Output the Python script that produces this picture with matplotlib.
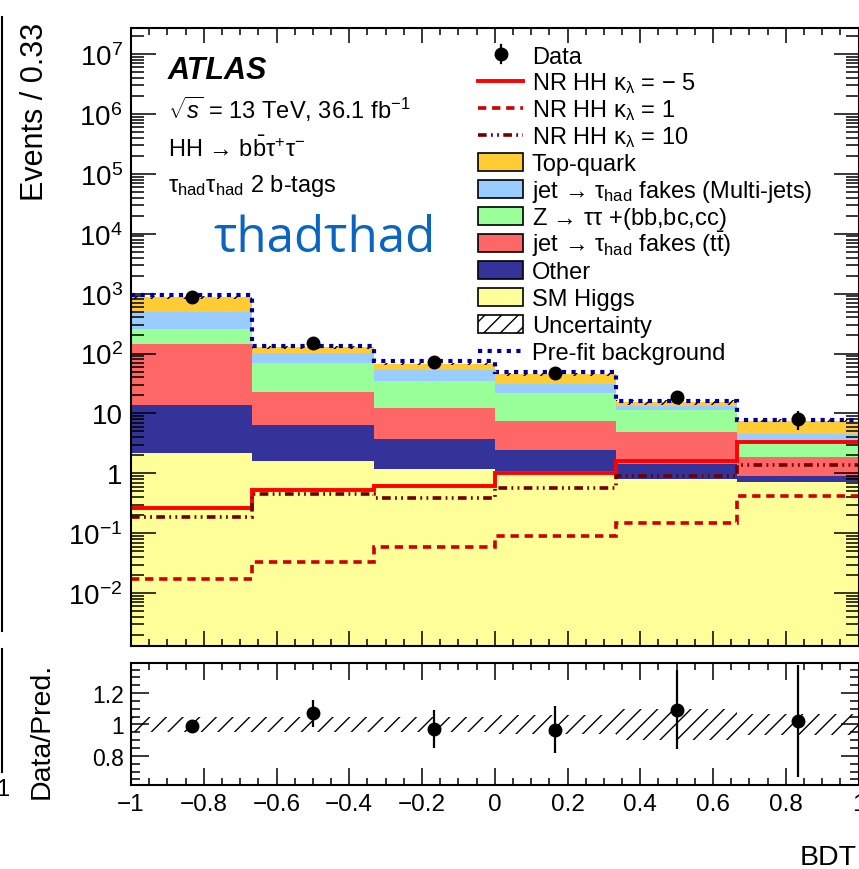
import numpy as np
import matplotlib
matplotlib.use('Agg')
import matplotlib.pyplot as plt
from matplotlib.ticker import MultipleLocator, LogLocator, FuncFormatter, NullFormatter, FixedLocator
from matplotlib.patches import Rectangle
from matplotlib.lines import Line2D

plt.rcParams['font.family'] = ['Liberation Sans', 'DejaVu Sans']
plt.rcParams['mathtext.fontset'] = 'custom'
plt.rcParams['mathtext.rm'] = 'Liberation Sans'
plt.rcParams['mathtext.it'] = 'Liberation Sans:italic'
plt.rcParams['mathtext.bf'] = 'Liberation Sans:bold'
plt.rcParams['mathtext.sf'] = 'Liberation Sans'
plt.rcParams['hatch.linewidth'] = 1.0

# ---------------- data ----------------
bin_edges = [-1.0, -2 / 3, -1 / 3, 0.0, 1 / 3, 2 / 3, 1.0]
sm_higgs = [2.2, 1.6, 1.18, 1.08, 0.80, 0.72]
other = [11.8, 4.9, 2.5, 1.4, 0.63, 0.17]
fakes_ttbar = [128, 16.0, 8.6, 5.0, 3.4, 0.96]
ztautau = [115, 46.5, 22.4, 14.5, 6.7, 1.65]
fakes_multijet = [230, 33, 19.3, 9.0, 1.6, 1.0]
top_quark = [380, 25, 13, 14.5, 2.2, 3.05]
prefit_bkg = [956, 135, 76, 48.5, 16.2, 7.85]
data = [870, 148, 73, 47, 18.6, 8.05]
data_err = [29, 12, 8.5, 6.9, 4.3, 2.85]
hh_klm5 = [0.26, 0.53, 0.62, 1.01, 1.62, 3.29]
hh_kl1 = [0.0174, 0.0327, 0.060, 0.091, 0.146, 0.42]
hh_kl10 = [0.19, 0.45, 0.39, 0.57, 0.89, 1.38]
ratio = [0.99, 1.072, 0.971, 0.965, 1.095, 1.022]
ratio_err = [0.03, 0.085, 0.12, 0.15, 0.25, 0.36]
rel_unc = [0.05, 0.05, 0.05, 0.06, 0.10, 0.065]

TAUHAD = r'$\mathrm{\tau_{had}}$'
KL = r'$\mathrm{\kappa_{\lambda}}$'
legend_labels = [
    'Data',
    'NR HH ' + KL + ' = \u2212 5',
    'NR HH ' + KL + ' = 1',
    'NR HH ' + KL + ' = 10',
    'Top-quark',
    'jet \u2192 ' + TAUHAD + ' fakes (Multi-jets)',
    'Z \u2192 ' + r'$\mathrm{\tau\tau}$' + ' +(bb,bc,cc)',
    'jet \u2192 ' + TAUHAD + r' fakes ($\mathrm{t\bar{t}}$)',
    'Other',
    'SM Higgs',
    'Uncertainty',
    'Pre-fit background',
]

# ---------------- styles ----------------
C_TOP = '#ffcc33'
C_MJ = '#99ccff'
C_Z = '#99ff99'
C_TT = '#ff6666'
C_OTH = '#333399'
C_H = '#ffff99'
LS_KL1 = (0, (2.3, 1.6))
LS_KL10 = (0, (2.4, 1.2, 0.5, 1.2, 0.5, 1.2))
LS_PRE = (0, (1, 1.3))
HATCH = '//'

W, H = 859, 870
fig = plt.figure(figsize=(W / 100, H / 100), dpi=100)


def fx(px):
    return px / W


def fy(py):
    return 1 - py / H


ax = fig.add_axes([fx(131), fy(647), fx(858.5) - fx(131), fy(29) - fy(647)])
rax = fig.add_axes([fx(131), fy(786), fx(858.5) - fx(131), fy(664) - fy(786)])

edges = np.array(bin_edges)
centers = 0.5 * (edges[:-1] + edges[1:])
widths = np.diff(edges)

# stacked backgrounds
cum = np.zeros(len(centers))
for vals, col in [(sm_higgs, C_H), (other, C_OTH), (fakes_ttbar, C_TT),
                  (ztautau, C_Z), (fakes_multijet, C_MJ), (top_quark, C_TOP)]:
    new = cum + np.array(vals)
    ax.stairs(new, edges, baseline=np.maximum(cum, 1e-6), fill=True,
              color=col, lw=0, zorder=1)
    cum = new
total = cum
rel = np.array(rel_unc)
ax.bar(centers, 2 * rel * total, bottom=total * (1 - rel), width=widths,
       fill=False, hatch=HATCH, edgecolor='k', lw=0, zorder=2)

ax.stairs(hh_klm5, edges, baseline=None, color='#ff0000', lw=2.8, zorder=4)
ax.stairs(hh_kl1, edges, baseline=None, color='#cc0000', lw=2.6,
          linestyle=LS_KL1, zorder=4)
ax.stairs(hh_kl10, edges, baseline=None, color='#6e0000', lw=2.6,
          linestyle=LS_KL10, zorder=4)
ax.stairs(prefit_bkg, edges, baseline=None, color='#000099', lw=3.0,
          linestyle=LS_PRE, zorder=5)
ax.errorbar(centers, data, yerr=data_err, fmt='o', color='k', ms=9,
            elinewidth=1.6, capsize=0, zorder=10)

ax.set_xlim(-1, 1)
ax.set_yscale('log')
ax.set_ylim(1.31e-3, 2.72e7)
ax.yaxis.set_major_locator(LogLocator(base=10, numticks=30))
ax.yaxis.set_minor_locator(LogLocator(base=10, subs=np.arange(2, 10), numticks=30))


def logfmt(v, pos):
    e = int(round(np.log10(v)))
    if e == 0:
        return '1'
    if e == 1:
        return '10'
    return r'$\mathregular{10^{%d}}$' % e


ax.yaxis.set_major_formatter(FuncFormatter(logfmt))
ax.yaxis.set_minor_formatter(NullFormatter())
ax.xaxis.set_major_locator(MultipleLocator(0.2))
ax.xaxis.set_minor_locator(MultipleLocator(0.05))
ax.tick_params(which='both', direction='in', top=True, right=True,
               labelbottom=False)
ax.tick_params(axis='y', which='major', length=18, width=1.1, labelsize=20, pad=6)
ax.tick_params(axis='y', which='minor', length=9.5, width=1.1)
ax.tick_params(axis='x', which='major', length=11, width=1.1)
ax.tick_params(axis='x', which='minor', length=5, width=1.1)
for s in ax.spines.values():
    s.set_linewidth(1.5)
    s.set_zorder(20)

# ratio panel
rax.bar(centers, 2 * rel, bottom=1 - rel, width=widths, fill=False,
        hatch=HATCH, edgecolor='k', lw=0, zorder=1)
rax.errorbar(centers, ratio, yerr=ratio_err, fmt='o', color='k', ms=9,
             elinewidth=1.6, capsize=0, zorder=10)
rax.set_xlim(-1, 1)
rax.set_ylim(0.614, 1.392)
rax.yaxis.set_major_locator(FixedLocator([0.8, 1.0, 1.2]))
rax.yaxis.set_minor_locator(MultipleLocator(0.05))
rax.yaxis.set_major_formatter(FuncFormatter(lambda v, p: ('%g' % v)))
rax.xaxis.set_major_locator(MultipleLocator(0.2))
rax.xaxis.set_minor_locator(MultipleLocator(0.05))
rax.xaxis.set_major_formatter(FuncFormatter(lambda v, p: ('%g' % round(v, 2)).replace('-', '\u2212')))
rax.tick_params(which='both', direction='in', top=True, right=True)
rax.tick_params(axis='y', which='major', length=13, width=1.1, labelsize=16.5, pad=5)
rax.tick_params(axis='y', which='minor', length=6.5, width=1.1)
rax.tick_params(axis='x', which='major', length=12, width=1.1, labelsize=17.5, pad=6)
rax.tick_params(axis='x', which='minor', length=5, width=1.1)
for s in rax.spines.values():
    s.set_linewidth(1.5)
    s.set_zorder(20)

# ---------------- text ----------------
fig.text(fx(168), fy(79), 'ATLAS', fontsize=22, fontweight='bold',
         fontstyle='italic', va='baseline')
fig.text(fx(168), fy(119), r'$\sqrt{s}$ = 13 TeV, 36.1 fb$^{-1}$',
         fontsize=17, va='baseline')
fig.text(fx(168), fy(157), 'HH \u2192 ' + r'$\mathrm{b\bar{b}\tau^{+}\tau^{-}}$',
         fontsize=17, va='baseline')
fig.text(fx(168), fy(192), r'$\mathrm{\tau_{had}\tau_{had}}$ 2 b-tags',
         fontsize=17, va='baseline')
fig.text(fx(213), fy(252), '\u03c4had\u03c4had', fontsize=35.5, color='#0a64c0',
         family=['Open Sans', 'DejaVu Sans'], va='baseline')

fig.text(fx(35), fy(23), 'Events / 0.33', rotation=90, ha='center', va='top',
         fontsize=22)
fig.text(fx(42), fy(731), 'Data/Pred.', rotation=90, ha='center', va='center',
         fontsize=20.5)
fig.text(fx(857), fy(865), 'BDT', ha='right', va='baseline', fontsize=20.5)

# ---------------- legend (manual) ----------------
kinds = [
    ('data', None),
    ('line', dict(color='#ff0000', lw=2.8)),
    ('line', dict(color='#cc0000', lw=2.6, linestyle=LS_KL1)),
    ('line', dict(color='#6e0000', lw=2.6, linestyle=LS_KL10)),
    ('box', dict(facecolor=C_TOP)),
    ('box', dict(facecolor=C_MJ)),
    ('box', dict(facecolor=C_Z)),
    ('box', dict(facecolor=C_TT)),
    ('box', dict(facecolor=C_OTH)),
    ('box', dict(facecolor=C_H)),
    ('box', dict(facecolor='white', hatch=HATCH)),
    ('line', dict(color='#000099', lw=3.0, linestyle=LS_PRE)),
]
lx0, lx1, ltx, ly0, ldy = 478, 523, 532, 55, 26.97
for i, ((kind, st), lab) in enumerate(zip(kinds, legend_labels)):
    y = ly0 + i * ldy
    if kind == 'data':
        fig.add_artist(Line2D([fx(500.5)] * 2, [fy(y - 9), fy(y + 9)],
                              color='k', lw=1.6, transform=fig.transFigure))
        fig.add_artist(Line2D([fx(500.5)], [fy(y)], marker='o', ms=9,
                              color='k', transform=fig.transFigure))
    elif kind == 'line':
        fig.add_artist(Line2D([fx(lx0), fx(lx1)], [fy(y), fy(y)],
                              transform=fig.transFigure, **st))
    else:
        fig.add_artist(Rectangle((fx(lx0), fy(y + 9)), fx(lx1) - fx(lx0), 18 / H,
                                 edgecolor='k', lw=1.2,
                                 transform=fig.transFigure, **st))
    fig.text(fx(ltx), fy(y + 8.5), lab, fontsize=17, va='baseline')

# ---------------- edge remnants of neighbouring panel ----------------
fig.add_artist(Line2D([fx(1.5)] * 2, [fy(18), fy(632)], lw=1.5, color='k',
                      transform=fig.transFigure))
fig.add_artist(Line2D([fx(1.5)] * 2, [fy(650), fy(773)], lw=1.5, color='k',
                      transform=fig.transFigure))
fig.text(fx(-4), fy(796), '1', fontsize=17, va='baseline')

fig.savefig('out.png', dpi=100)
